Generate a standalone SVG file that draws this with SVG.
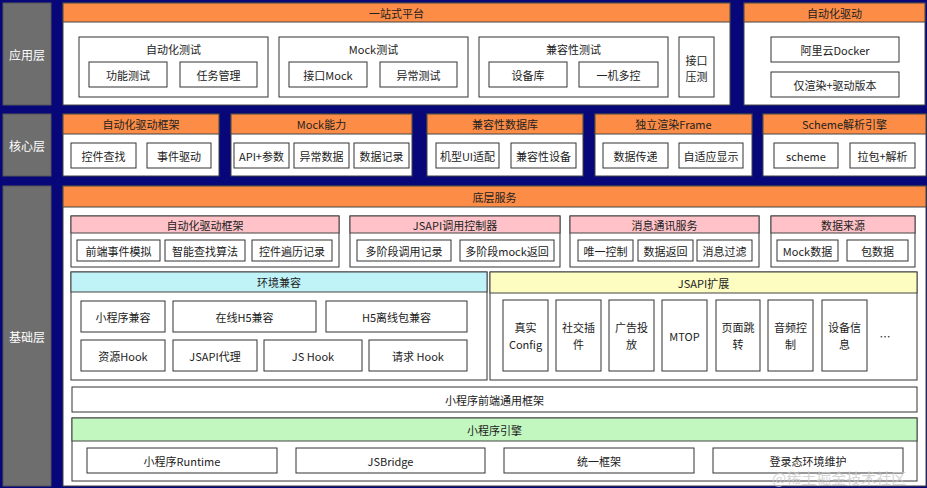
<svg xmlns="http://www.w3.org/2000/svg" width="927" height="488" viewBox="0 0 927 488">
<style>
.bg{fill:#07077a}
.layer{fill:#6e6e6e;stroke:#555;stroke-width:1}
.lt{font-family:"Noto Sans CJK SC","Noto Sans",sans-serif;font-size:12px;fill:#fff;text-anchor:middle;dominant-baseline:central}
.panel{fill:#fff;stroke:#444;stroke-width:1}
.ho{fill:#fd8c46;stroke:#444;stroke-width:1}
.hp{fill:#ffc2c8;stroke:#444;stroke-width:1}
.hc{fill:#bff3f8;stroke:#444;stroke-width:1}
.hy{fill:#fdfdc2;stroke:#444;stroke-width:1}
.hg{fill:#c2f7c0;stroke:#444;stroke-width:1}
.box{fill:#fff;stroke:#333;stroke-width:1}
.t{font-family:"Noto Sans CJK SC","Noto Sans",sans-serif;font-size:11px;fill:#222;text-anchor:middle;dominant-baseline:central}
.wm{font-family:"Noto Sans CJK SC",serif;font-size:15px;fill:#c8c8c8;fill-opacity:0.75;text-anchor:start;dominant-baseline:central}
</style>
<rect class="bg" x="0" y="0" width="927" height="488"/>

<!-- 应用层 -->
<g id="layer-app"><rect class="layer" x="3" y="3" width="48" height="102"/><text class="lt" x="27" y="54">应用层</text></g>
<g id="platform">
<rect class="panel" x="63" y="3" width="667" height="102"/>
<rect class="ho" x="63" y="3" width="667" height="19"/>
<text class="t" x="396.5" y="13">一站式平台</text>
</g>
<g id="autotest">
<rect class="box" x="79" y="37" width="189" height="60"/>
<text class="t" x="173.5" y="49">自动化测试</text>
<rect class="box" x="89" y="62" width="78" height="25"/><text class="t" x="128" y="74.5">功能测试</text>
<rect class="box" x="180" y="62" width="77" height="25"/><text class="t" x="218.5" y="74.5">任务管理</text>
</g>
<g id="mocktest">
<rect class="box" x="279" y="37" width="189" height="60"/>
<text class="t" x="373.5" y="49">Mock测试</text>
<rect class="box" x="289" y="62" width="78" height="25"/><text class="t" x="328" y="74.5">接口Mock</text>
<rect class="box" x="380" y="62" width="77" height="25"/><text class="t" x="418.5" y="74.5">异常测试</text>
</g>
<g id="compattest">
<rect class="box" x="479" y="37" width="189" height="60"/>
<text class="t" x="573.5" y="49">兼容性测试</text>
<rect class="box" x="489" y="62" width="78" height="25"/><text class="t" x="528" y="74.5">设备库</text>
<rect class="box" x="579" y="62" width="79" height="25"/><text class="t" x="618.5" y="74.5">一机多控</text>
</g>
<g id="stress">
<rect class="box" x="679" y="37" width="35" height="60"/>
<text class="t" x="696.5" y="59.5">接口</text><text class="t" x="696.5" y="75.5">压测</text>
</g>
<g id="autodrive">
<rect class="panel" x="744" y="3" width="181" height="102"/>
<rect class="ho" x="744" y="3" width="181" height="19"/>
<text class="t" x="834.5" y="13">自动化驱动</text>
<rect class="box" x="771" y="37" width="128" height="25"/><text class="t" x="835" y="49.5">阿里云Docker</text>
<rect class="box" x="771" y="72" width="128" height="25"/><text class="t" x="835" y="84.5">仅渲染+驱动版本</text>
</g>

<!-- 核心层 -->
<g id="layer-core"><rect class="layer" x="3" y="114" width="48" height="62"/><text class="lt" x="27" y="145">核心层</text></g>
<g id="core-drive">
<rect class="panel" x="63" y="114" width="156" height="62"/><rect class="ho" x="63" y="114" width="156" height="20"/>
<text class="t" x="141" y="124">自动化驱动框架</text>
<rect class="box" x="71" y="143" width="65" height="25"/><text class="t" x="103.5" y="155.5">控件查找</text>
<rect class="box" x="147" y="143" width="64" height="25"/><text class="t" x="179" y="155.5">事件驱动</text>
</g>
<g id="core-mock">
<rect class="panel" x="231" y="114" width="181" height="62"/><rect class="ho" x="231" y="114" width="181" height="20"/>
<text class="t" x="321.5" y="124">Mock能力</text>
<rect class="box" x="234" y="143" width="55" height="25"/><text class="t" x="261.5" y="155.5">API+参数</text>
<rect class="box" x="294" y="143" width="55" height="25"/><text class="t" x="321.5" y="155.5">异常数据</text>
<rect class="box" x="354" y="143" width="55" height="25"/><text class="t" x="381.5" y="155.5">数据记录</text>
</g>
<g id="core-compat">
<rect class="panel" x="427" y="114" width="156" height="62"/><rect class="ho" x="427" y="114" width="156" height="20"/>
<text class="t" x="505" y="124">兼容性数据库</text>
<rect class="box" x="436" y="143" width="63" height="25"/><text class="t" x="467.5" y="155.5">机型UI适配</text>
<rect class="box" x="511" y="143" width="65" height="25"/><text class="t" x="543.5" y="155.5">兼容性设备</text>
</g>
<g id="core-frame">
<rect class="panel" x="595" y="114" width="157" height="62"/><rect class="ho" x="595" y="114" width="157" height="20"/>
<text class="t" x="673.5" y="124">独立渲染Frame</text>
<rect class="box" x="603" y="143" width="65" height="25"/><text class="t" x="635.5" y="155.5">数据传递</text>
<rect class="box" x="679" y="143" width="64" height="25"/><text class="t" x="711" y="155.5">自适应显示</text>
</g>
<g id="core-scheme">
<rect class="panel" x="763" y="114" width="163" height="62"/><rect class="ho" x="763" y="114" width="163" height="20"/>
<text class="t" x="844.5" y="124">Scheme解析引擎</text>
<rect class="box" x="774" y="143" width="64" height="25"/><text class="t" x="806" y="155.5">scheme</text>
<rect class="box" x="850" y="143" width="65" height="25"/><text class="t" x="882.5" y="155.5">拉包+解析</text>
</g>

<!-- 基础层 -->
<g id="layer-base"><rect class="layer" x="3" y="186" width="48" height="300"/><text class="lt" x="27" y="336">基础层</text></g>
<g id="base-service">
<rect class="panel" x="63" y="186" width="863" height="300"/><rect class="ho" x="63" y="186" width="863" height="21"/>
<text class="t" x="494.5" y="196.5">底层服务</text>
</g>
<g id="svc-drive">
<rect class="box" x="71" y="216" width="268" height="51"/><rect class="hp" x="71" y="216" width="268" height="17"/>
<text class="t" x="205" y="224.5">自动化驱动框架</text>
<rect class="box" x="77" y="240" width="83" height="21"/><text class="t" x="118.5" y="250.5">前端事件模拟</text>
<rect class="box" x="165" y="240" width="80" height="21"/><text class="t" x="205" y="250.5">智能查找算法</text>
<rect class="box" x="252" y="240" width="80" height="21"/><text class="t" x="292" y="250.5">控件遍历记录</text>
</g>
<g id="svc-jsapi">
<rect class="box" x="350" y="216" width="210" height="51"/><rect class="hp" x="350" y="216" width="210" height="17"/>
<text class="t" x="455" y="224.5">JSAPI调用控制器</text>
<rect class="box" x="357" y="240" width="94" height="21"/><text class="t" x="404" y="250.5">多阶段调用记录</text>
<rect class="box" x="460" y="240" width="94" height="21"/><text class="t" x="507" y="250.5">多阶段mock返回</text>
</g>
<g id="svc-msg">
<rect class="box" x="570" y="216" width="189" height="51"/><rect class="hp" x="570" y="216" width="189" height="17"/>
<text class="t" x="664.5" y="224.5">消息通讯服务</text>
<rect class="box" x="578" y="240" width="55" height="21"/><text class="t" x="605.5" y="250.5">唯一控制</text>
<rect class="box" x="638" y="240" width="55" height="21"/><text class="t" x="665.5" y="250.5">数据返回</text>
<rect class="box" x="697" y="240" width="55" height="21"/><text class="t" x="724.5" y="250.5">消息过滤</text>
</g>
<g id="svc-data">
<rect class="box" x="771" y="216" width="144" height="51"/><rect class="hp" x="771" y="216" width="144" height="17"/>
<text class="t" x="843" y="224.5">数据来源</text>
<rect class="box" x="777" y="240" width="61" height="21"/><text class="t" x="807.5" y="250.5">Mock数据</text>
<rect class="box" x="847" y="240" width="61" height="21"/><text class="t" x="877.5" y="250.5">包数据</text>
</g>
<g id="env-compat">
<rect class="box" x="71" y="272" width="416" height="108"/><rect class="hc" x="71" y="272" width="416" height="20"/>
<text class="t" x="279" y="282">环境兼容</text>
<rect class="box" x="81" y="301" width="84" height="31"/><text class="t" x="123" y="316.5">小程序兼容</text>
<rect class="box" x="173" y="301" width="143" height="31"/><text class="t" x="244.5" y="316.5">在线H5兼容</text>
<rect class="box" x="326" y="301" width="141" height="31"/><text class="t" x="396.5" y="316.5">H5离线包兼容</text>
<rect class="box" x="81" y="340" width="84" height="31"/><text class="t" x="123" y="355.5">资源Hook</text>
<rect class="box" x="173" y="340" width="84" height="31"/><text class="t" x="215" y="355.5">JSAPI代理</text>
<rect class="box" x="264" y="340" width="98" height="31"/><text class="t" x="313" y="355.5">JS Hook</text>
<rect class="box" x="369" y="340" width="98" height="31"/><text class="t" x="418" y="355.5">请求 Hook</text>
</g>
<g id="jsapi-ext">
<rect class="box" x="490" y="272" width="427" height="108"/><rect class="hy" x="490" y="272" width="427" height="21"/>
<text class="t" x="703.5" y="282.5">JSAPI扩展</text>
<rect class="box" x="503" y="300" width="45" height="71"/><text class="t" x="525.5" y="327">真实</text><text class="t" x="525.5" y="344">Config</text>
<rect class="box" x="556" y="300" width="45" height="71"/><text class="t" x="578.5" y="327">社交插</text><text class="t" x="578.5" y="344">件</text>
<rect class="box" x="609" y="300" width="45" height="71"/><text class="t" x="631.5" y="327">广告投</text><text class="t" x="631.5" y="344">放</text>
<rect class="box" x="662" y="300" width="45" height="71"/><text class="t" x="684.5" y="335.5">MTOP</text>
<rect class="box" x="716" y="300" width="44" height="71"/><text class="t" x="738" y="327">页面跳</text><text class="t" x="738" y="344">转</text>
<rect class="box" x="768" y="300" width="45" height="71"/><text class="t" x="790.5" y="327">音频控</text><text class="t" x="790.5" y="344">制</text>
<rect class="box" x="822" y="300" width="45" height="71"/><text class="t" x="844.5" y="327">设备信</text><text class="t" x="844.5" y="344">息</text>
<text class="t" x="885" y="336">…</text>
</g>
<g id="front-framework">
<rect class="box" x="72" y="387" width="845" height="25"/><text class="t" x="494.5" y="399.5">小程序前端通用框架</text>
</g>
<g id="engine">
<rect class="box" x="72" y="418" width="845" height="63"/><rect class="hg" x="72" y="418" width="845" height="23"/>
<text class="t" x="494.5" y="429.5">小程序引擎</text>
<rect class="box" x="87" y="448" width="190" height="25"/><text class="t" x="182" y="460.5">小程序Runtime</text>
<rect class="box" x="296" y="448" width="189" height="25"/><text class="t" x="390.5" y="460.5">JSBridge</text>
<rect class="box" x="504" y="448" width="190" height="25"/><text class="t" x="599" y="460.5">统一框架</text>
<rect class="box" x="713" y="448" width="190" height="25"/><text class="t" x="808" y="460.5">登录态环境维护</text>
</g>
<g id="connectors"></g>
<text class="wm" x="772" y="477">@稀土掘金技术社区</text>
</svg>
